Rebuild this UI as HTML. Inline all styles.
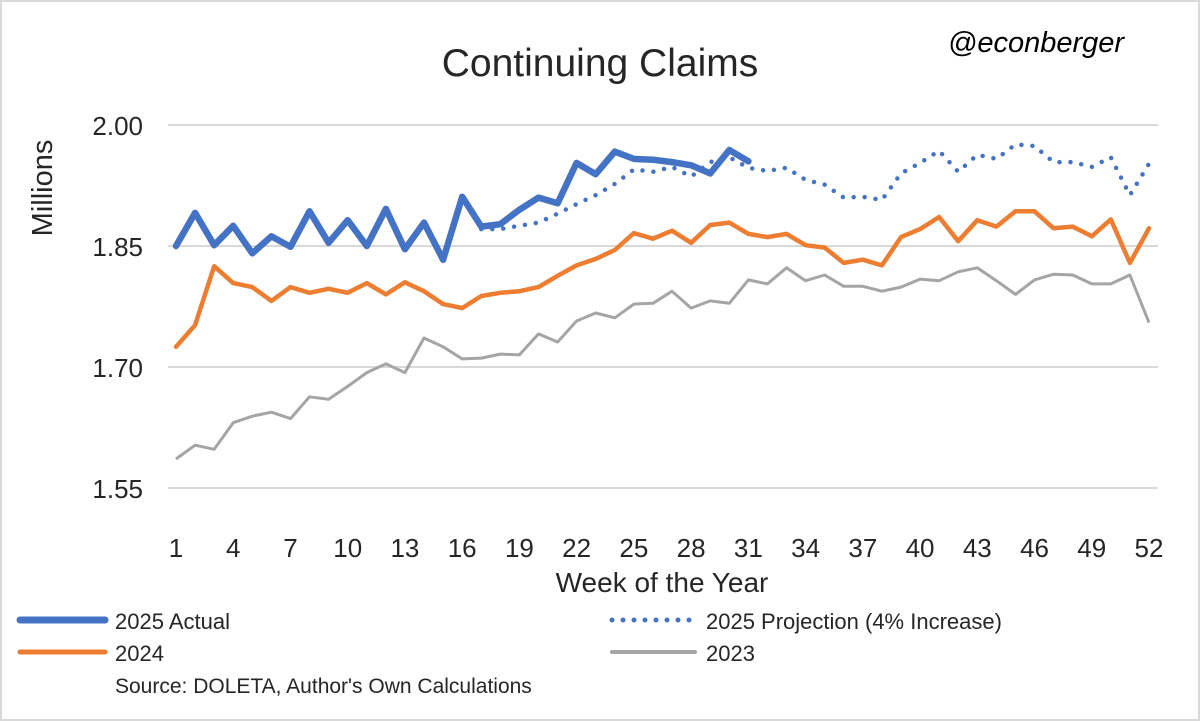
<!DOCTYPE html>
<html><head><meta charset="utf-8"><style>
html,body{margin:0;padding:0;background:#fff}
svg{display:block;font-family:"Liberation Sans",sans-serif}
</style></head><body>
<svg id="chart" width="1200" height="721" viewBox="0 0 1200 721">
<rect x="1" y="1" width="1198" height="719" fill="#fff" stroke="#d9d9d9" stroke-width="2"/>
<text x="600" y="76" font-size="39" text-anchor="middle" fill="#262626">Continuing Claims</text>
<text x="1036" y="52" font-size="29" font-style="italic" text-anchor="middle" fill="#000">@econberger</text>
<text transform="translate(52,188) rotate(-90)" font-size="29" text-anchor="middle" fill="#262626">Millions</text>
<text x="662" y="592" font-size="28" text-anchor="middle" fill="#262626">Week of the Year</text>
<g id="grid"></g><g id="yticks"></g><g id="xticks"></g><g id="series"></g>
<g>
<line x1="20" y1="620" x2="105" y2="620" stroke="#4472c4" stroke-width="7" stroke-linecap="round"/>
<text x="115" y="629" font-size="22" fill="#262626">2025 Actual</text>
<line x1="612" y1="620" x2="695" y2="620" stroke="#4472c4" stroke-width="5" stroke-linecap="round" stroke-dasharray="0 11"/>
<text x="706" y="629" font-size="22" fill="#262626">2025 Projection (4% Increase)</text>
<line x1="20" y1="652" x2="105" y2="652" stroke="#ed7d31" stroke-width="5" stroke-linecap="round"/>
<text x="115" y="661" font-size="22" fill="#262626">2024</text>
<line x1="612" y1="652" x2="695" y2="652" stroke="#a5a5a5" stroke-width="4" stroke-linecap="round"/>
<text x="706" y="661" font-size="22" fill="#262626">2023</text>
<text x="115" y="693" font-size="21" fill="#262626">Source: DOLETA, Author's Own Calculations</text>
</g>
</svg>
<script>
const yTicks=[1.55,1.70,1.85,2.00];
const yTickLabels=["1.55","1.70","1.85","2.00"];
const xTicks=[1,4,7,10,13,16,19,22,25,28,31,34,37,40,43,46,49,52];
const actual2025=[1.850,1.891,1.851,1.875,1.841,1.862,1.849,1.893,1.854,1.882,1.850,1.896,1.846,1.879,1.833,1.911,1.874,1.877,1.895,1.910,1.903,1.953,1.939,1.967,1.958,1.957,1.954,1.950,1.940,1.969,1.955];
const projStart=17;
const projection2025=[1.871,1.871,1.875,1.879,1.890,1.902,1.913,1.927,1.945,1.942,1.948,1.936,1.954,1.960,1.947,1.943,1.947,1.932,1.926,1.910,1.911,1.907,1.940,1.953,1.968,1.942,1.963,1.958,1.976,1.974,1.954,1.954,1.948,1.960,1.913,1.952];
const s2024=[1.725,1.752,1.825,1.804,1.799,1.782,1.799,1.792,1.797,1.792,1.804,1.790,1.805,1.794,1.778,1.773,1.788,1.792,1.794,1.799,1.813,1.826,1.834,1.845,1.866,1.859,1.869,1.854,1.876,1.879,1.865,1.861,1.865,1.851,1.848,1.829,1.833,1.826,1.861,1.871,1.886,1.856,1.882,1.874,1.893,1.893,1.872,1.874,1.862,1.883,1.829,1.872];
const s2023=[1.586,1.603,1.598,1.631,1.639,1.644,1.636,1.663,1.660,1.676,1.693,1.704,1.693,1.736,1.725,1.710,1.711,1.716,1.715,1.741,1.731,1.757,1.767,1.761,1.778,1.779,1.794,1.773,1.782,1.779,1.808,1.803,1.823,1.807,1.814,1.800,1.800,1.794,1.799,1.809,1.807,1.818,1.823,1.807,1.790,1.808,1.815,1.814,1.803,1.803,1.814,1.755];
const NS="http://www.w3.org/2000/svg";
function xs(w){return 176+(w-1)*(1149-176)/51;}
function ys(v){return 125+(2.00-v)*(488-125)/0.45;}
function mk(tag,attrs,parent){const e=document.createElementNS(NS,tag);for(const k in attrs)e.setAttribute(k,attrs[k]);document.getElementById(parent).appendChild(e);return e;}
yTicks.forEach((t,i)=>{
 const g=mk('line',{x1:168,x2:1158,y1:ys(t),y2:ys(t),stroke:'#d9d9d9','stroke-width':2},'grid');
 
 
 const l=mk('text',{x:143,y:ys(t)+10,'font-size':26,'text-anchor':'end',fill:'#262626'},'yticks');
 l.textContent=yTickLabels[i];
 
 
});
xTicks.forEach(w=>{
 const l=mk('text',{x:xs(w),y:557,'font-size':26,'text-anchor':'middle',fill:'#262626'},'xticks');
 l.textContent=w;
 
 
});
function pts(arr,start){return arr.map((v,i)=>xs(start+i).toFixed(1)+','+ys(v).toFixed(1)).join(' ');}
const p23=mk('polyline',{points:pts(s2023,1),fill:'none',stroke:'#a5a5a5','stroke-width':3,'stroke-linejoin':'round'},'series');


const p24=mk('polyline',{points:pts(s2024,1),fill:'none',stroke:'#ed7d31','stroke-width':4.5,'stroke-linejoin':'round','stroke-linecap':'round'},'series');


const pp=mk('polyline',{points:pts(projection2025,projStart),fill:'none',stroke:'#4472c4','stroke-width':4.5,'stroke-linecap':'round','stroke-dasharray':'0 11'},'series');


const pa=mk('polyline',{points:pts(actual2025,1),fill:'none',stroke:'#4472c4','stroke-width':6.5,'stroke-linejoin':'round','stroke-linecap':'round'},'series');


</script>
</body></html>
